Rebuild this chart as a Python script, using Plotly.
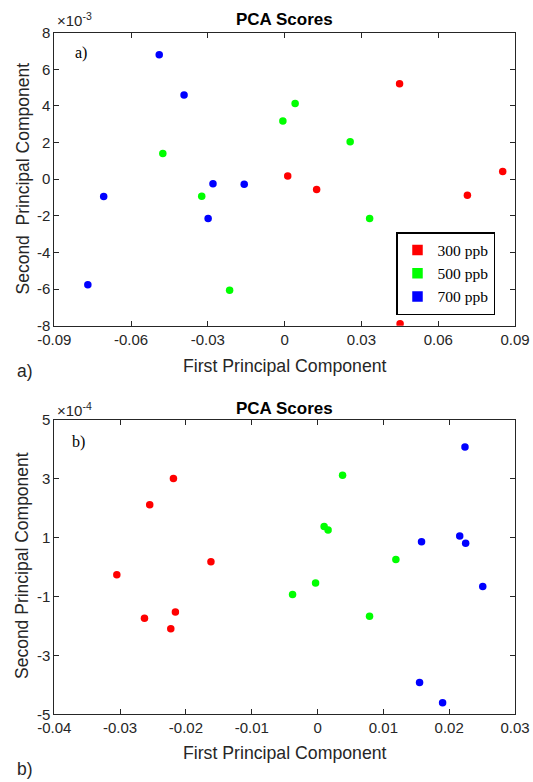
import plotly.graph_objects as go

# ---------------- data: panel a) (y values in units of 1e-3) ----------------
a_red_x = [0.0449, 0.0012, 0.0125, 0.0852, 0.0714, 0.0451]
a_red_y = [5.21, 0.17, -0.56, 0.42, -0.87, -7.90]
a_green_x = [-0.0476, -0.0324, -0.0007, 0.0041, 0.0256, 0.0332, -0.0215]
a_green_y = [1.40, -0.93, 3.18, 4.14, 2.04, -2.14, -6.06]
a_blue_x = [-0.0490, -0.0393, -0.0280, -0.0158, -0.0707, -0.0299, -0.0769]
a_blue_y = [6.80, 4.60, -0.25, -0.27, -0.95, -2.14, -5.76]

# ---------------- data: panel b) (y values in units of 1e-4) ----------------
b_red_x = [-0.0219, -0.0255, -0.0162, -0.0305, -0.0216, -0.0263, -0.0223]
b_red_y = [3.01, 2.12, 0.18, -0.26, -1.52, -1.74, -2.09]
b_green_x = [0.0038, 0.0010, 0.0016, 0.0119, -0.0003, -0.0038, 0.0079]
b_green_y = [3.12, 1.38, 1.26, 0.26, -0.54, -0.93, -1.67]
b_blue_x = [0.0224, 0.0158, 0.0216, 0.0225, 0.0251, 0.0155, 0.0190]
b_blue_y = [4.08, 0.86, 1.06, 0.81, -0.66, -3.92, -4.61]

series_names = ["300 ppb", "500 ppb", "700 ppb"]
series_colors = ["#ff0000", "#00ff00", "#0000ff"]

# ---------------- tick labels ----------------
a_xticks = [-0.09, -0.06, -0.03, 0, 0.03, 0.06, 0.09]
a_xticktext = ["-0.09", "-0.06", "-0.03", "0", "0.03", "0.06", "0.09"]
a_yticks = [-8, -6, -4, -2, 0, 2, 4, 6, 8]
a_yticktext = ["-8", "-6", "-4", "-2", "0", "2", "4", "6", "8"]
b_xticks = [-0.04, -0.03, -0.02, -0.01, 0, 0.01, 0.02, 0.03]
b_xticktext = ["-0.04", "-0.03", "-0.02", "-0.01", "0", "0.01", "0.02", "0.03"]
b_yticks = [-5, -3, -1, 1, 3, 5]
b_yticktext = ["-5", "-3", "-1", "1", "3", "5"]

W, H = 533, 782
SANS = "Liberation Sans, Arial, sans-serif"
SERIF = "Liberation Serif, Times New Roman, serif"
AX = "#262626"

fig = go.Figure()

panel_a = [(a_red_x, a_red_y), (a_green_x, a_green_y), (a_blue_x, a_blue_y)]
panel_b = [(b_red_x, b_red_y), (b_green_x, b_green_y), (b_blue_x, b_blue_y)]

for (xs, ys), c, n in zip(panel_a, series_colors, series_names):
    fig.add_trace(go.Scatter(x=xs, y=ys, mode="markers", name=n, showlegend=False,
                             marker=dict(color=c, size=7.5, line=dict(width=0)),
                             xaxis="x", yaxis="y"))
for (xs, ys), c, n in zip(panel_b, series_colors, series_names):
    fig.add_trace(go.Scatter(x=xs, y=ys, mode="markers", name=n, showlegend=False,
                             marker=dict(color=c, size=7.5, line=dict(width=0)),
                             xaxis="x2", yaxis="y2"))
# legend entries (square symbols as in the reference)
for c, n in zip(series_colors, series_names):
    fig.add_trace(go.Scatter(x=[None], y=[None], mode="markers", name=n,
                             marker=dict(color=c, size=10.5, symbol="square", line=dict(width=0)),
                             xaxis="x", yaxis="y"))

def py(px):
    return 1 - px / H

def px_x(px):
    return px / W

xdom = [px_x(54.3), px_x(515)]
common = dict(showline=True, linecolor=AX, linewidth=1, mirror="ticks", ticks="inside",
              ticklen=5, tickcolor=AX, showgrid=False, zeroline=False, automargin=False,
              tickfont=dict(family=SANS, size=15, color=AX))

fig.update_layout(
    template="none",
    width=W, height=H,
    margin=dict(l=0, r=0, t=0, b=0, autoexpand=False),
    paper_bgcolor="white", plot_bgcolor="white",
    xaxis=dict(domain=xdom, anchor="y", range=[-0.09, 0.09],
               tickvals=a_xticks, ticktext=a_xticktext, **common),
    yaxis=dict(domain=[py(325.7), py(32.7)], anchor="x", range=[-8, 8],
               tickvals=a_yticks, ticktext=a_yticktext, **common),
    xaxis2=dict(domain=xdom, anchor="y2", range=[-0.04, 0.03],
                tickvals=b_xticks, ticktext=b_xticktext, **common),
    yaxis2=dict(domain=[py(714.3), py(420)], anchor="x2", range=[-5, 5],
                tickvals=b_yticks, ticktext=b_yticktext, **common),
    legend=dict(x=px_x(396), y=py(232), xanchor="left", yanchor="top",
                bgcolor="white", bordercolor="black", borderwidth=1.5,
                font=dict(family=SERIF, size=15.5, color="black"),
                itemwidth=30, tracegroupgap=0),
    showlegend=True,
)

ann = []
def text(x, y, s, size, family=SANS, bold=False, xanchor="center", yanchor="middle", angle=0, color=AX):
    ann.append(dict(x=px_x(x), y=py(y), xref="paper", yref="paper", text=("<b>%s</b>" % s) if bold else s,
                    showarrow=False, xanchor=xanchor, yanchor=yanchor, textangle=angle,
                    font=dict(family=family, size=size, color=color)))

# titles
text(284.6, 19, "PCA Scores", 17, bold=True, color="black")
text(284.6, 409, "PCA Scores", 17, bold=True, color="black")
# exponent labels
text(54.5, 31, "×10<sup>-3</sup>", 15, xanchor="left", yanchor="bottom")
text(54.5, 421, "×10<sup>-4</sup>", 15, xanchor="left", yanchor="bottom")
# axis titles
text(284.6, 365.5, "First Principal Component", 17.7)
text(284.6, 753, "First Principal Component", 17.7)
text(22, 178.5, "Second  Principal Component", 17.5, angle=-90)
text(22, 566, "Second Principal Component", 17.5, angle=-90)
# panel labels
text(14.5, 371, "a)", 17.5, xanchor="left")
text(14.5, 769, "b)", 17.5, xanchor="left")
text(72.8, 53.5, "a)", 16, family=SERIF, xanchor="left", color="black")
text(69.5, 442, "b)", 16, family=SERIF, xanchor="left", color="black")

fig.update_layout(annotations=ann)

fig.write_html("out.html", config={"displayModeBar": False},
               post_script="document.body.style.margin='0px';document.body.style.padding='0px';")
